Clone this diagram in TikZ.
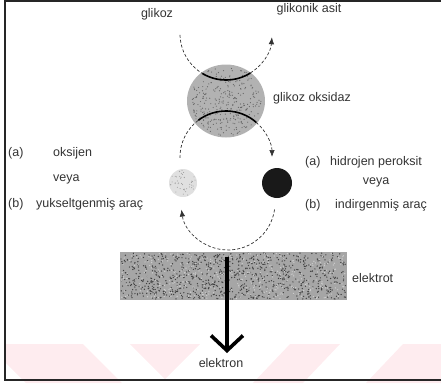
\documentclass[tikz,border=0pt]{standalone}
\usepackage{fontspec}
\setmainfont{Liberation Sans}
\usetikzlibrary{arrows.meta,calc,shapes.geometric}
\definecolor{wmpink}{RGB}{254,236,239}
\begin{document}
\begin{tikzpicture}[x=1pt,y=-1pt,
  lbl/.style={font=\fontsize{12.5}{14}\selectfont, text=black!80, inner sep=0pt},
  dashline/.style={line width=0.7pt, draw=black!80, dash pattern=on 3pt off 2pt},
  bindline/.style={line width=1.6pt, draw=black},
  tipstyle/.style={-{Latex[length=7pt,width=5.5pt]}},
  blob/.style={inner sep=0pt, draw=none},
]
\useasboundingbox (0,0) rectangle (441,383);
% watermark bands
\fill[wmpink] (5,344) -- (83,344) -- (122,383) -- (26,383) -- (5,362) -- cycle;
\fill[wmpink] (130,344) -- (200,344) -- (165,379) -- cycle;
\fill[wmpink] (290,344) -- (340,344) -- (303,383) -- (253,383) -- cycle;
\fill[wmpink] (403,344) -- (441,344) -- (441,383) -- (366,383) -- cycle;
% frame
\draw[line width=1.5pt, black!85] (441,1) -- (5,1) -- (5,380) -- (441,380);
% shapes
\node[blob, rectangle, fill=black!35, minimum width=227pt, minimum height=48pt] (elec) at (233.5,276) {};
\node[blob, ellipse, fill=black!30, minimum width=78pt, minimum height=73pt] (enz) at (226,101) {};
\node[blob, circle, fill=black!12, minimum size=28pt] (ox) at (183,183) {};
\node[blob, circle, fill=black!90, minimum size=30pt] (hp) at (277,183) {};
% stipple
\pgfmathsetseed{7}
\foreach \i in {1,...,900}{
  \pgfmathsetmacro\rx{121+225*rnd}\pgfmathsetmacro\ry{253+46*rnd}
  \fill[black!75] (\rx,\ry) circle[radius=0.7];}
\foreach \i in {1,...,400}{
  \pgfmathsetmacro\rx{121+225*rnd}\pgfmathsetmacro\ry{253+46*rnd}
  \fill[white!80!black] (\rx,\ry) circle[radius=0.7];}
\foreach \i in {1,...,300}{
  \pgfmathsetmacro\ang{360*rnd}\pgfmathsetmacro\rr{35*sqrt(rnd)}
  \fill[black!60] ($(enz.center)+(\ang:\rr)$) circle[radius=0.6];}
\foreach \i in {1,...,45}{
  \pgfmathsetmacro\ang{360*rnd}\pgfmathsetmacro\rr{13*sqrt(rnd)}
  \fill[black!40] ($(ox.center)+(\ang:\rr)$) circle[radius=0.5];}
% arc centres
\coordinate (tc) at (226,34);
\coordinate (bc) at (226,157);
\coordinate (lc) at (228,203);
% upper path: glikoz -> glikonik asit
\draw[dashline] ($(tc)+(179:46)$) arc[start angle=179, end angle=121, radius=46];
\draw[bindline] ($(tc)+(121:46)$) arc[start angle=121, end angle=58, radius=46];
\draw[dashline, tipstyle] ($(tc)+(58:46)$) arc[start angle=58, end angle=4, radius=46];
% middle path: oksijen -> hidrojen peroksit
\draw[dashline] ($(bc)+(179:46)$) arc[start angle=179, end angle=233, radius=46];
\draw[bindline] ($(bc)+(233:46)$) arc[start angle=233, end angle=311, radius=46];
\draw[dashline, tipstyle] ($(bc)+(311:46)$) arc[start angle=311, end angle=360, radius=46];
% lower loop
\draw[dashline, tipstyle] ($(lc)+(8:47)$) arc[start angle=8, end angle=172, radius=47];
% electron arrow
\coordinate (eout) at (227,257);
\coordinate (etip) at (227,353);
\draw[line width=3.6pt, -{Straight Barb[length=15pt,width=32pt]}] (eout) -- (etip);
% labels
\node[lbl] (tglu) at (157,14) {glikoz};
\node[lbl] (tgla) at (309,9) {glikonik asit};
\node[lbl] (tgox) at (312,98) {glikoz oksidaz};
\node[lbl, anchor=west] (tla) at (8,153) {(a)};
\node[lbl, anchor=west] (tox) at (53,153) {oksijen};
\node[lbl, anchor=west] (tlv) at (53,179) {veya};
\node[lbl, anchor=west] (tlb) at (8,204) {(b)};
\node[lbl, anchor=west] (tya) at (36,204) {yukseltgenmiş araç};
\node[lbl, anchor=west] (tra) at (305,162) {(a)};
\node[lbl, anchor=west] (thp) at (330,162) {hidrojen peroksit};
\node[lbl] (trv) at (376,182) {veya};
\node[lbl, anchor=west] (trb) at (305,205) {(b)};
\node[lbl, anchor=west] (tia) at (335,205) {indirgenmiş araç};
\node[lbl, anchor=west] (tel) at (352,278) {elektrot};
\node[lbl] (telk) at (221,363) {elektron};
\end{tikzpicture}
\end{document}
